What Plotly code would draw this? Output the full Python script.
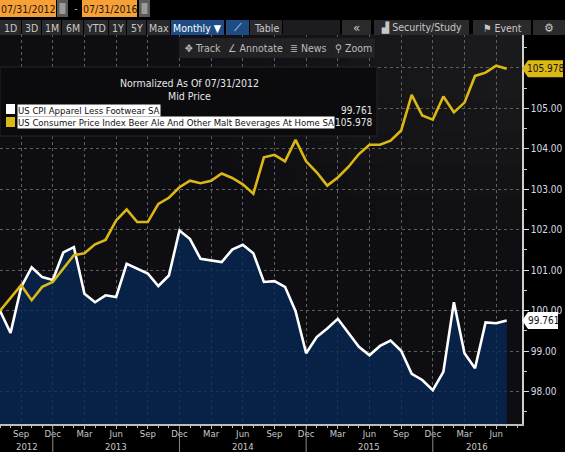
import plotly.graph_objects as go

# ---------------- data ----------------
start_year = 2012
start_month = 7  # July 2012
month_abbr = ["Jan", "Feb", "Mar", "Apr", "May", "Jun", "Jul", "Aug", "Sep", "Oct", "Nov", "Dec"]

apparel_name = "US CPI Apparel Less Footwear SA"
beer_name = "US Consumer Price Index Beer Ale And Other Malt Beverages At Home SA"

apparel = [100.00, 99.45, 100.58, 101.07, 100.83, 100.76, 101.44, 101.57, 100.42, 100.21,
           100.38, 100.34, 101.16, 101.04, 100.92, 100.61, 100.87, 101.98, 101.77, 101.28,
           101.24, 101.20, 101.51, 101.63, 101.42, 100.71, 100.73, 100.59, 99.99, 98.95,
           99.35, 99.56, 99.80, 99.44, 99.11, 98.90, 99.13, 99.26, 99.01, 98.44,
           98.29, 98.04, 98.49, 100.21, 98.95, 98.58, 99.71, 99.69, 99.761]
beer = [100.00, 100.33, 100.63, 100.26, 100.59, 100.71, 101.04, 101.37, 101.42, 101.64,
        101.75, 102.23, 102.50, 102.19, 102.19, 102.64, 102.79, 103.05, 103.21, 103.15,
        103.21, 103.39, 103.28, 103.12, 102.89, 103.79, 103.85, 103.69, 104.22, 103.69,
        103.42, 103.09, 103.29, 103.55, 103.87, 104.10, 104.10, 104.20, 104.45, 105.33,
        104.82, 104.72, 105.29, 104.90, 105.14, 105.80, 105.88, 106.05, 105.978]

year_labels = ["2012", "2013", "2014", "2015", "2016"]
year_label_pos = [2.55, 11, 23, 35, 45.2]

y_ticks = [98, 99, 100, 101, 102, 103, 104, 105, 106]
y_labeled_max = 105  # the 106 label sits under the last-value tag

n = len(apparel)
idx = list(range(n))
month_of = [(start_month - 1 + i) % 12 for i in idx]
quarter_idx = [i for i in idx if month_abbr[month_of[i]] in ("Mar", "Jun", "Sep", "Dec")]
quarter_txt = [month_abbr[month_of[i]] for i in quarter_idx]
dec_idx = [i for i in quarter_idx if month_abbr[month_of[i]] == "Dec"]

# ---------------- styling ----------------
W, H = 565, 452
FONT = "DejaVu Sans Condensed, Liberation Sans, sans-serif"
YELLOW = "#dcb814"
ORANGE = "#f7a035"
BTN = "#2a2a2c"
BLUE = "#1d4c85"
PLOT_L, PLOT_R, PLOT_T, PLOT_B = 0, 522, 34, 424


def px(x):
    return x / W


def py(y):
    return 1 - y / H


shapes = []
annotations = []

# subtle background gradient (lighter towards the top right), drawn under grid lines
cols, rows = 18, 12
for c in range(cols):
    for r in range(rows):
        x0 = PLOT_L + (PLOT_R - PLOT_L) * c / cols
        x1 = PLOT_L + (PLOT_R - PLOT_L) * (c + 1) / cols
        y0 = PLOT_T + (PLOT_B - PLOT_T) * r / rows
        y1 = PLOT_T + (PLOT_B - PLOT_T) * (r + 1) / rows
        cx, cy = (x0 + x1) / 2, (y0 + y1) / 2
        d = ((PLOT_R - cx) ** 2 + ((cy - PLOT_T) * 1.6) ** 2) ** 0.5
        t = max(0.0, 1 - d / 380)
        rr = int(14 + 14 * t)
        gg = int(14 + 14 * t)
        bb = int(18 + 12 * t)
        shapes.append(dict(type="rect", xref="paper", yref="paper",
                           x0=px(x0), x1=px(x1) + 0.002, y0=py(y1) - 0.002, y1=py(y0),
                           fillcolor=f"rgb({rr},{gg},{bb})", line=dict(width=0), layer="below"))


def rect(x0, y0, x1, y1, fill, line=None):
    shapes.append(dict(type="rect", xref="paper", yref="paper",
                       x0=px(x0), x1=px(x1), y0=py(y1), y1=py(y0),
                       fillcolor=fill, line=dict(width=1 if line else 0, color=line or fill),
                       layer="above"))


def text(x, y, s, color="#cccccc", size=10, anchor="center", bg=None):
    annotations.append(dict(xref="paper", yref="paper", x=px(x), y=py(y), text=s,
                            showarrow=False, xanchor=anchor, yanchor="middle",
                            font=dict(family=FONT, size=size, color=color),
                            bgcolor=bg, borderpad=0))


# ---------------- top toolbar ----------------
rect(0, 0, 56, 17, ORANGE)
text(28, 9, "07/31/2012", "#1a1a1a", 10.5)
rect(57, 0, 68, 17, "#5a5a5a")
rect(59.5, 3, 65.5, 14, "#9a9a9a")
text(76, 9, "-", ORANGE, 11)
rect(82, 0, 137, 17, ORANGE)
text(109.5, 9, "07/31/2016", "#1a1a1a", 10.5)
rect(139, 0, 150, 17, "#5a5a5a")
rect(141.5, 3, 147.5, 14, "#9a9a9a")

buttons = [("1D", 0, 21), ("3D", 22, 41), ("1M", 42, 61), ("6M", 62, 83), ("YTD", 84, 108),
           ("1Y", 109, 126), ("5Y", 127, 146), ("Max", 147, 170)]
for lab, a, b in buttons:
    rect(a, 20, b, 35, BTN)
    text((a + b) / 2, 28, lab, "#c8c8c8", 10.5)
rect(171, 20, 224, 35, BLUE)
text(197.5, 28, "Monthly ▼", "#ffffff", 10.5)
rect(226, 20, 249, 35, BLUE)
text(237.5, 28, "⟋", "#e0e0e0", 11)
rect(250, 20, 282, 35, BTN)
text(266, 28, "Table", "#c8c8c8", 10.5)
rect(283, 20, 340, 35, "#1c1c1e")
rect(342, 20, 371, 35, BTN)
text(356.5, 27, "«", "#c8c8c8", 13)
rect(374, 20, 469, 35, BTN)
text(421.5, 28, "▟ Security/Study", "#c8c8c8", 10.5)
rect(473, 20, 531, 35, BTN)
text(502, 28, "⚑ Event", "#c8c8c8", 10.5)
rect(533, 20, 565, 35, BTN)
text(549, 28, "⚙", "#c8c8c8", 12)

# Track / Annotate bar
rect(179, 38, 375, 58, "#1e1e20")
for lab, a, b in [("✥ Track", 179, 226), ("∠ Annotate", 226, 285), ("≣ News", 285, 332), ("⚲ Zoom", 332, 375)]:
    rect(a + 0.5, 38.5, b - 0.5, 57.5, "#222224")
    text((a + b) / 2, 48, lab, "#bdbdbd", 10.5)

# ---------------- legend box ----------------
rect(0, 67, 377, 136, "#0b0b0d", "#262628")
text(189, 83, "Normalized As Of 07/31/2012", "#e6e6e6", 10.5)
text(189, 96, "Mid Price", "#e6e6e6", 10.5)
rect(6, 104, 15, 114, "#ffffff")
text(17, 110, apparel_name, "#111111", 9.5, "left", "#ffffff")
text(373, 110, f"{apparel[-1]:.3f}", "#e6e6e6", 10, "right")
rect(6, 117, 15, 127, YELLOW)
text(17, 123, beer_name, "#111111", 9.5, "left", "#ffffff")
text(373, 123, f"{beer[-1]:.3f}", "#e6e6e6", 10, "right")

# ---------------- value tags on right axis ----------------
unit_px = 40.49
for val, col, width in [(beer[-1], YELLOW, 41), (apparel[-1], "#ffffff", 36)]:
    half = 8.5 / unit_px
    shapes.append(dict(type="path", xref="paper", yref="y",
                       path=f"M {px(522)},{val} L {px(528)},{val + half} L {px(522 + width)},{val + half} "
                            f"L {px(522 + width)},{val - half} L {px(528)},{val - half} Z",
                       fillcolor=col, line=dict(width=0), layer="above"))
    annotations.append(dict(xref="paper", yref="y", x=px(522 + 3 + width / 2), y=val,
                            text=f"{val:.3f}", showarrow=False, xanchor="center", yanchor="middle",
                            font=dict(family=FONT, size=10, color="#111111")))

# year separators and year labels
for d in dec_idx:
    shapes.append(dict(type="line", xref="x", yref="paper", x0=d, x1=d, y0=py(452), y1=py(426),
                       line=dict(color="#8a8a8a", width=1)))
for lab, pos in zip(year_labels, year_label_pos):
    annotations.append(dict(xref="x", yref="paper", x=pos, y=py(446.5), text=lab, showarrow=False,
                            xanchor="center", yanchor="middle",
                            font=dict(family=FONT, size=9.5, color="#c8c8c8")))

# ---------------- traces ----------------
fig = go.Figure()
fig.add_trace(go.Scatter(x=idx, y=apparel, mode="lines", name=apparel_name,
                         line=dict(color="#ffffff", width=2.6), fill="tozeroy",
                         fillcolor="rgba(8,40,85,0.80)"))
fig.add_trace(go.Scatter(x=idx, y=beer, mode="lines", name=beer_name,
                         line=dict(color=YELLOW, width=2.6)))

fig.update_layout(
    width=W, height=H,
    margin=dict(l=0, r=0, t=0, b=0, autoexpand=False),
    paper_bgcolor="#000000",
    plot_bgcolor="#0e0e12",
    showlegend=False,
    font=dict(family=FONT, color="#c8c8c8", size=10),
    shapes=shapes,
    annotations=annotations,
    xaxis=dict(domain=[px(PLOT_L), px(PLOT_R)], range=[0, 49.45], tickmode="array",
               tickvals=quarter_idx, ticktext=quarter_txt, automargin=False,
               showgrid=True, gridcolor="#5e5e5e", griddash="dot", gridwidth=1,
               showline=True, linecolor="#bdbdbd", linewidth=1.5,
               ticks="outside", ticklen=3, tickcolor="#bdbdbd", ticklabelstandoff=-3,
               minor=dict(tickmode="linear", tick0=0, dtick=1, ticks="outside", ticklen=2,
                          tickcolor="#bdbdbd", showgrid=False),
               tickfont=dict(family=FONT, size=9.5, color="#c8c8c8"),
               zeroline=False, fixedrange=True),
    yaxis=dict(domain=[py(PLOT_B), py(PLOT_T)], side="right", range=[97.202, 106.835],
               tickmode="array", tickvals=y_ticks,
               ticktext=[f"{v:.2f}" if v <= y_labeled_max else "" for v in y_ticks],
               automargin=False,
               showgrid=True, gridcolor="#5e5e5e", griddash="dot", gridwidth=1,
               showline=True, linecolor="#d0d0d0", linewidth=1.5,
               ticks="outside", ticklen=5, tickcolor="#e0e0e0",
               minor=dict(tickmode="linear", tick0=98.5, dtick=1, ticks="outside", ticklen=3,
                          tickcolor="#cfcfcf", showgrid=False),
               tickfont=dict(family=FONT, size=10, color="#d6dde8"),
               zeroline=False, fixedrange=True),
)

fig.write_html("out.html", config={"displayModeBar": False},
               post_script="document.body.style.margin='0';document.body.style.overflow='hidden';")
